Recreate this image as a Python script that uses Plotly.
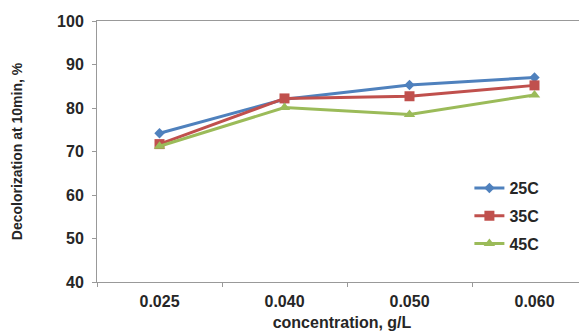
import plotly.graph_objects as go

categories = ["0.025", "0.040", "0.050", "0.060"]
s25 = [74.2, 82.0, 85.3, 87.0]
s35 = [71.7, 82.2, 82.7, 85.2]
s45 = [71.2, 80.1, 78.5, 83.0]
names = ["25C", "35C", "45C"]
colors = ["#4F81BD", "#C0504D", "#9BBB59"]
symbols = ["diamond", "square", "triangle-up"]
sizes = [8, 10, 10]
yticks = [40, 50, 60, 70, 80, 90, 100]

fig = go.Figure()
for name, vals, c, sym, sz in zip(names, [s25, s35, s45], colors, symbols, sizes):
    fig.add_trace(go.Scatter(
        x=categories, y=vals, name=name, mode="lines+markers",
        line=dict(color=c, width=3),
        marker=dict(symbol=sym, size=sz, color=c),
        legendgroup=name,
    ))

font_bold = dict(family="Liberation Sans, Arial", size=16, color="#262626", weight="bold")
font_ytitle = dict(family="Liberation Sans, Arial", size=14, color="#262626", weight="bold")

fig.update_layout(
    width=579, height=323,
    margin=dict(l=89, r=0, t=13, b=49),
    plot_bgcolor="white", paper_bgcolor="white",
    showlegend=True,
    legend=dict(x=0.76, y=0.425, xanchor="left", yanchor="top",
                font=font_bold, bgcolor="rgba(0,0,0,0)",
                tracegroupgap=4, itemwidth=30),
    xaxis=dict(
        type="category", range=[-0.5, 3.42], automargin=False,
        showline=True, linecolor="#999999", linewidth=1, mirror=True,
        ticks="outside", tickson="boundaries", ticklen=4, tickcolor="#999999",
        showgrid=False, tickfont=font_bold, ticklabelstandoff=5,
        title=dict(text="concentration, g/L", font=font_bold, standoff=8),
    ),
    yaxis=dict(
        range=[40, 100], tickvals=yticks, automargin=False,
        showline=True, linecolor="#999999", linewidth=1,
        ticks="outside", ticklen=4, tickcolor="#999999",
        showgrid=False, zeroline=False, tickfont=font_bold, ticklabelstandoff=5,
        title=dict(text="Decolorization at 10min, %", font=font_ytitle, standoff=31),
    ),
)

fig.write_html("out.html")
